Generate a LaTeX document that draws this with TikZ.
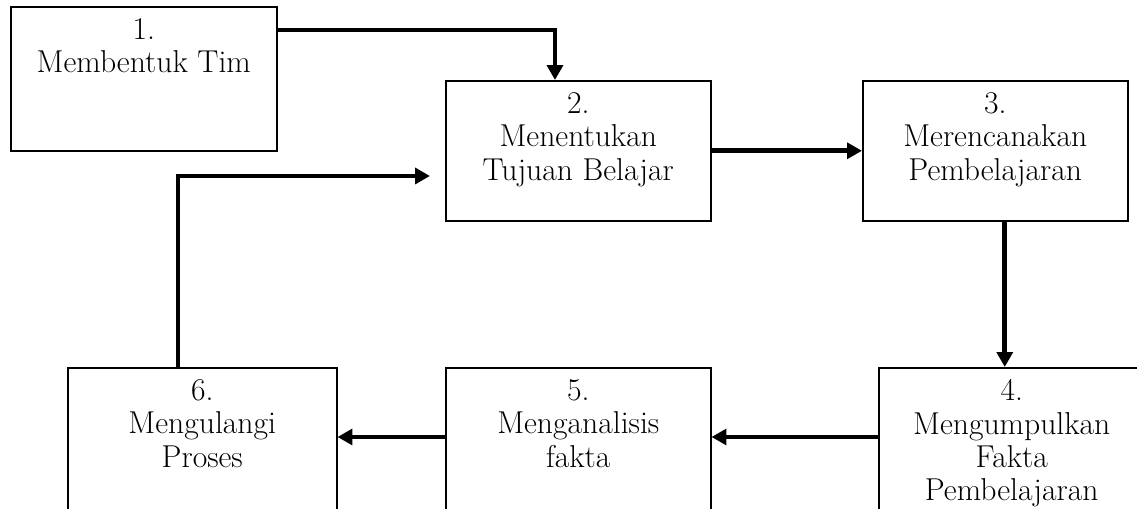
\documentclass[tikz,border=0pt]{standalone}
\usetikzlibrary{arrows.meta}
\tikzset{
  stage/.style={draw, line width=0.9pt, anchor=north west, inner sep=0pt},
  stagetext/.style={anchor=north, align=center, inner sep=4pt, yshift=-3pt, font=\fontsize{18}{19}\selectfont},
  flow/.style={line width=2.8pt, -{Triangle[length=8.5pt,width=9pt]}}
}
\begin{document}
\begin{tikzpicture}[x=0.02cm,y=-0.02cm]
\useasboundingbox (0,0) rectangle (1137,508);
\clip (0,0) rectangle (1137,508);
% top row
\node[stage, minimum width=5.32cm, minimum height=2.88cm] (s1) at (10,6) {};
\node[stagetext] (t1) at (s1.north) {1.\\Membentuk Tim};
\node[stage, minimum width=5.3cm, minimum height=2.8cm] (s2) at (445,80) {};
\node[stagetext] (t2) at (s2.north) {2.\\Menentukan\\Tujuan Belajar};
\node[stage, minimum width=5.3cm, minimum height=2.8cm] (s3) at (862,80) {};
\node[stagetext] (t3) at (s3.north) {3.\\Merencanakan\\Pembelajaran};
% bottom row
\node[stage, minimum width=5.32cm, minimum height=3cm] (s4) at (878,367) {};
\node[stagetext] (t4) at (s4.north) {4.\\Mengumpulkan\\Fakta\\Pembelajaran};
\node[stage, minimum width=5.3cm, minimum height=3cm] (s5) at (445,367) {};
\node[stagetext] (t5) at (s5.north) {5.\\Menganalisis\\fakta};
\node[stage, minimum width=5.38cm, minimum height=3cm] (s6) at (67,367) {};
\node[stagetext] (t6) at (s6.north) {6.\\Mengulangi\\Proses};
% arrows
\draw[flow] ([yshift=-0.48cm]s1.north east) -| ([xshift=2.2cm]s2.north west);
\draw[flow] (s2.east) -- (s3.west);
\draw[flow] ([xshift=0.19cm]s3.south) -- ([xshift=0.19cm]s3.south |- s4.north);
\draw[flow] ([yshift=-1.4cm]s4.north west) -- ([yshift=-1.4cm]s5.north east);
\draw[flow] ([yshift=-1.4cm]s5.north west) -- ([yshift=-1.4cm]s6.north east);
\draw[flow] ([xshift=2.22cm]s6.north west) |- ([xshift=-0.3cm,yshift=-1.92cm]s2.north west);
\end{tikzpicture}
\end{document}
